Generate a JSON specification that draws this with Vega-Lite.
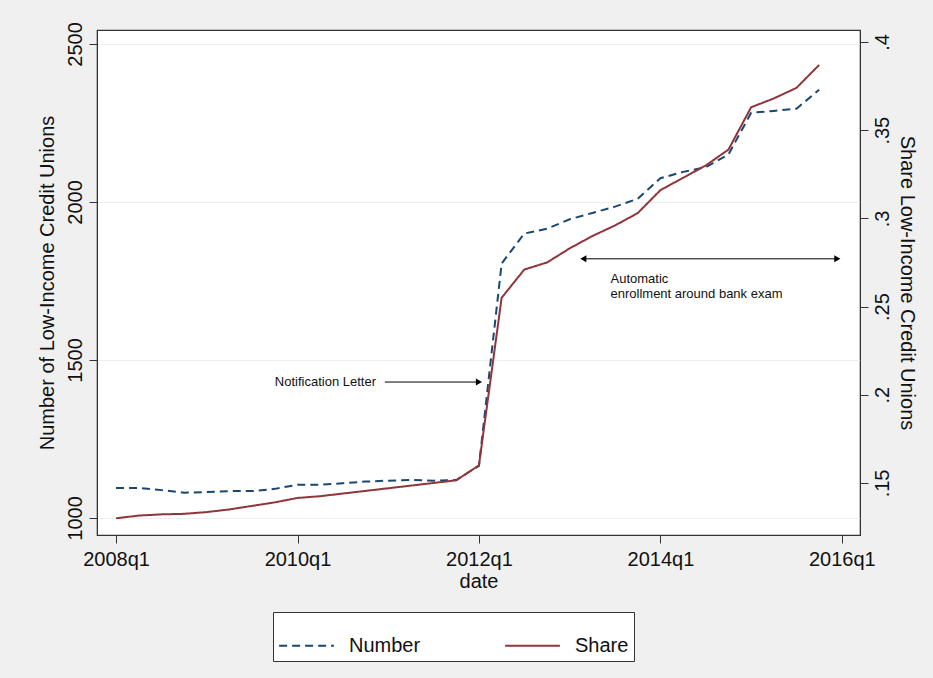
{
"$schema":"https://vega.github.io/schema/vega-lite/v6.json",
"width":763,"height":505,
"autosize":{"type":"none"},
"padding":{"left":97,"top":30,"right":73,"bottom":143},
"background":"#f0f0f0",
"config":{"view":{"fill":"white","stroke":"#333","strokeWidth":1.2},"font":"Liberation Sans",
"axis":{"labelFont":"Liberation Sans","titleFont":"Liberation Sans","labelFontSize":20,"titleFontSize":20,"titleFontWeight":"normal","labelColor":"#111","titleColor":"#111","domainColor":"#333","tickColor":"#333","tickSize":8,"gridColor":"#eeeeee"}},
"datasets":{
"main":[
{"t":0,"number":1095,"share":0.130},{"t":1,"number":1095,"share":0.1315},{"t":2,"number":1088,"share":0.1322},{"t":3,"number":1080,"share":0.1325},
{"t":4,"number":1082,"share":0.1335},{"t":5,"number":1085,"share":0.135},{"t":6,"number":1085,"share":0.137},{"t":7,"number":1092,"share":0.139},
{"t":8,"number":1105,"share":0.1415},{"t":9,"number":1105,"share":0.1425},{"t":10,"number":1110,"share":0.144},{"t":11,"number":1115,"share":0.1455},
{"t":12,"number":1118,"share":0.147},{"t":13,"number":1120,"share":0.1485},{"t":14,"number":1118,"share":0.150},{"t":15,"number":1120,"share":0.1515},
{"t":16,"number":1165,"share":0.160},{"t":17,"number":1805,"share":0.255},{"t":18,"number":1900,"share":0.271},{"t":19,"number":1915,"share":0.275},
{"t":20,"number":1945,"share":0.283},{"t":21,"number":1965,"share":0.290},{"t":22,"number":1985,"share":0.296},{"t":23,"number":2010,"share":0.303},
{"t":24,"number":2075,"share":0.316},{"t":25,"number":2095,"share":0.323},{"t":26,"number":2110,"share":0.330},{"t":27,"number":2150,"share":0.339},
{"t":28,"number":2282,"share":0.363},{"t":29,"number":2288,"share":0.368},{"t":30,"number":2295,"share":0.374},{"t":31,"number":2355,"share":0.387}
],
"arrows":[{"x1":11.85,"x2":16.0,"y":1430},{"x1":20.6,"x2":31.8,"y":1820}],
"heads":[{"x":16.0,"y":1430,"shape":"triangle-right"},{"x":20.6,"y":1820,"shape":"triangle-left"},{"x":31.8,"y":1820,"shape":"triangle-right"}],
"labels":[{"x":7.0,"y":1430,"text":"Notification Letter"},{"x":21.8,"y":1755,"text":"Automatic"},{"x":21.8,"y":1708,"text":"enrollment around bank exam"}]
},
"layer":[
{"layer":[
{"data":{"name":"main"},"mark":{"type":"line","strokeWidth":2},
"encoding":{
"x":{"field":"t","type":"quantitative","scale":{"domain":[-0.84,32.8],"nice":false,"zero":false},
"axis":{"values":[0,8,16,24,32],"labelExpr":"toString(2008+datum.value/4)+'q1'","title":"date","grid":false,"titlePadding":2,"labelPadding":6}},
"y":{"field":"number","type":"quantitative","scale":{"domain":[946,2544],"nice":false,"zero":false},
"axis":{"values":[1000,1500,2000,2500],"format":"d","title":"Number of Low-Income Credit Unions","grid":true,"labelAngle":-90,"labelAlign":"center","labelBaseline":"bottom","labelPadding":4,"titlePadding":8}},
"color":{"datum":"Number","type":"nominal","scale":{"domain":["Number","Share"],"range":["#1a476f","#90353b"]},
"legend":{"title":null,"orient":"none","legendX":176,"legendY":582,"direction":"horizontal","symbolType":"stroke","symbolSize":3000,"symbolStrokeWidth":2,"labelFontSize":20,"labelFont":"Liberation Sans","labelColor":"#111","strokeColor":"#333","fillColor":"white","padding":5,"columnPadding":80,"labelOffset":14}},
"strokeDash":{"datum":"Number","type":"nominal","scale":{"domain":["Number","Share"],"range":[[8,5],[1,0]]},"legend":null}}},
{"data":{"name":"arrows"},"mark":{"type":"rule","color":"black","strokeWidth":1},
"encoding":{"x":{"field":"x1","type":"quantitative"},"x2":{"field":"x2"},"y":{"field":"y","type":"quantitative"}}},
{"data":{"name":"heads"},"mark":{"type":"point","filled":true,"color":"black","size":50,"opacity":1},
"encoding":{"x":{"field":"x","type":"quantitative"},"y":{"field":"y","type":"quantitative"},"shape":{"field":"shape","type":"nominal","scale":null}}},
{"data":{"name":"labels"},"mark":{"type":"text","align":"left","fontSize":13,"font":"Liberation Sans","color":"#111"},
"encoding":{"x":{"field":"x","type":"quantitative"},"y":{"field":"y","type":"quantitative"},"text":{"field":"text"}}}
]},
{"data":{"name":"main"},"mark":{"type":"line","strokeWidth":2},
"encoding":{
"x":{"field":"t","type":"quantitative"},
"y":{"field":"share","type":"quantitative","scale":{"domain":[0.1205,0.4068],"nice":false,"zero":false},
"axis":{"orient":"right","values":[0.15,0.2,0.25,0.3,0.35,0.4],"labelExpr":"replace(format(datum.value,'.2~f'),'0.','.')","title":"Share Low-Income Credit Unions","grid":false,"labelAngle":-90,"labelAlign":"center","labelBaseline":"top","labelPadding":4,"titlePadding":4}},
"color":{"datum":"Share","type":"nominal"},
"strokeDash":{"datum":"Share","type":"nominal"}}}
],
"resolve":{"scale":{"y":"independent"}}
}
